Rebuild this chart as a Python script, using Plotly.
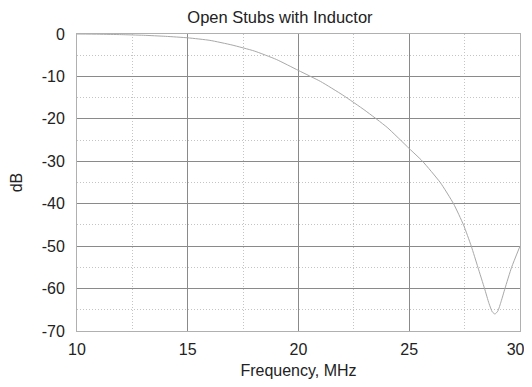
import plotly.graph_objects as go

# Frequency response
freq_mhz = [10, 11, 12, 13, 14, 15, 16, 17, 18, 19, 20, 21, 22, 23, 24, 25,
            25.6, 26.4, 27, 27.45, 27.8, 28.1, 28.4, 28.6, 28.75, 28.87, 29.0,
            29.15, 29.32, 29.62, 30]
gain_db = [0, -0.05, -0.15, -0.3, -0.55, -0.9, -1.5, -2.6, -4.0, -6.0, -8.6,
           -11.2, -14.4, -18, -22, -27, -30, -35, -40, -45, -50, -55, -60,
           -63.5, -65.5, -66, -65.3, -63, -60, -55, -50]

x_ticks = [10, 15, 20, 25, 30]
# last label padded so it sits a little left of the right edge, as in the reference
x_labels = ["10", "15", "20", "25", "30\u00a0\u00a0"]
y_ticks = [0, -10, -20, -30, -40, -50, -60, -70]
y_labels = ["0", "-10", "-20", "-30", "-40", "-50", "-60", "-70"]

font_family = "Liberation Sans, Arial, sans-serif"
text_color = "#222"

fig = go.Figure()
fig.add_trace(go.Scatter(
    x=freq_mhz, y=gain_db, mode="lines",
    line=dict(color="#a8a8a8", width=1, shape="spline", smoothing=0.5),
    showlegend=False, hoverinfo="skip",
))

axis_common = dict(
    showline=True, linecolor="#b0b0b0", linewidth=1, mirror=True,
    showgrid=True, gridcolor="#8a8a8a", gridwidth=1,
    zeroline=False, ticks="", ticklen=0, automargin=False,
    ticklabeloverflow="allow",
    tickfont=dict(size=16, color=text_color, family=font_family),
)

fig.update_xaxes(
    range=[10, 30], tickvals=x_ticks, ticktext=x_labels,
    title=dict(text="Frequency, MHz", font=dict(size=16, color=text_color, family=font_family), standoff=11),
    minor=dict(dtick=2.5, tick0=10, showgrid=True, gridcolor="#c4c4c4", griddash="1px,2px", gridwidth=1),
    ticklabelstandoff=4,
    **axis_common,
)
fig.update_yaxes(
    range=[-70, 0], tickvals=y_ticks, ticktext=y_labels,
    title=dict(text="dB", font=dict(size=16, color=text_color, family=font_family), standoff=18),
    minor=dict(dtick=5, tick0=0, showgrid=True, gridcolor="#c4c4c4", griddash="1px,2px", gridwidth=1),
    ticklabelstandoff=8,
    **axis_common,
)

# the page puts the figure 8px in from the corner, so the figure is sized to fit the window
fig.update_layout(
    width=524, height=371,
    margin=dict(l=69, r=12, t=26, b=48),
    paper_bgcolor="white", plot_bgcolor="white",
    title=dict(text="Open Stubs with Inductor", xref="container", x=0.519, xanchor="center",
               yref="container", y=0.976, yanchor="middle",
               font=dict(size=16.5, color=text_color, family=font_family)),
)

fig.write_html("out.html")
